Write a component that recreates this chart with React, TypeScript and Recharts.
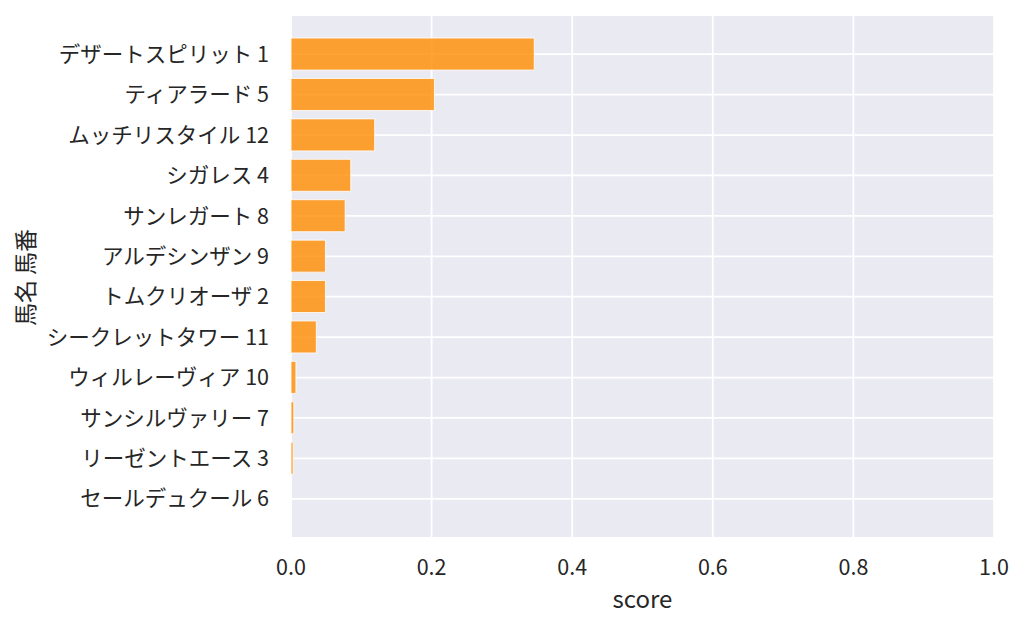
import React from "react";
import { Bar, BarChart, CartesianGrid, XAxis, YAxis } from "recharts";

// 馬名 / 馬番 / score (top to bottom)
const horseNames = [
  "デザートスピリット",
  "ティアラード",
  "ムッチリスタイル",
  "シガレス",
  "サンレガート",
  "アルデシンザン",
  "トムクリオーザ",
  "シークレットタワー",
  "ウィルレーヴィア",
  "サンシルヴァリー",
  "リーゼントエース",
  "セールデュクール",
];
const horseNumbers = [1, 5, 12, 4, 8, 9, 2, 11, 10, 7, 3, 6];
const scores = [0.346, 0.204, 0.119, 0.085, 0.077, 0.049, 0.049, 0.036, 0.007, 0.004, 0.003, 0.0];
const xTicks = [0, 0.2, 0.4, 0.6, 0.8, 1.0];

const FONT = '"Noto Sans CJK JP", "Noto Sans", sans-serif';
const TEXT = "#262626";

const data = horseNames.map((name, i) => ({
  label: `${name} ${horseNumbers[i]}`,
  score: scores[i],
}));

const XLabel = ({ viewBox }: any) => (
  <text
    x={viewBox.x + viewBox.width / 2}
    y={viewBox.y + 70}
    textAnchor="middle"
    fontSize={24}
    fontFamily={FONT}
    fill={TEXT}
  >
    score
  </text>
);

const YLabel = ({ viewBox }: any) => {
  const cx = 16;
  const cy = viewBox.y + viewBox.height / 2 + 1;
  return (
    <text
      x={cx}
      y={cy}
      transform={`rotate(-90, ${cx}, ${cy})`}
      textAnchor="middle"
      dominantBaseline="central"
      fontSize={23}
      fontFamily={FONT}
      fill={TEXT}
    >
      馬名 馬番
    </text>
  );
};

export default function App() {
  return (
    <BarChart
      width={1016}
      height={619}
      data={data}
      layout="vertical"
      margin={{ top: 7, right: 30, bottom: 0, left: 0 }}
      barCategoryGap="10%"
    >
      <CartesianGrid fill="#EAEAF2" stroke="#ffffff" strokeWidth={1.8} />
      <XAxis
        type="number"
        dataKey="score"
        domain={[0, 1]}
        ticks={xTicks}
        tickFormatter={(v: number) => v.toFixed(1)}
        axisLine={false}
        tickLine={false}
        tickSize={0}
        tickMargin={22}
        height={89}
        tick={{ fontSize: 21.5, fontFamily: FONT, fill: TEXT }}
        label={<XLabel />}
      />
      <YAxis
        type="category"
        dataKey="label"
        width={283}
        padding={{ top: 19, bottom: 19 }}
        axisLine={false}
        tickLine={false}
        tickSize={0}
        tickMargin={22}
        interval={0}
        tick={{ fontSize: 21.5, fontFamily: FONT, fill: TEXT }}
        label={<YLabel />}
      />
      <Bar
        dataKey="score"
        fill="#ff8c00"
        fillOpacity={0.8}
        stroke="#ffffff"
        strokeOpacity={0.8}
        strokeWidth={1}
        isAnimationActive={false}
      />
    </BarChart>
  );
}
